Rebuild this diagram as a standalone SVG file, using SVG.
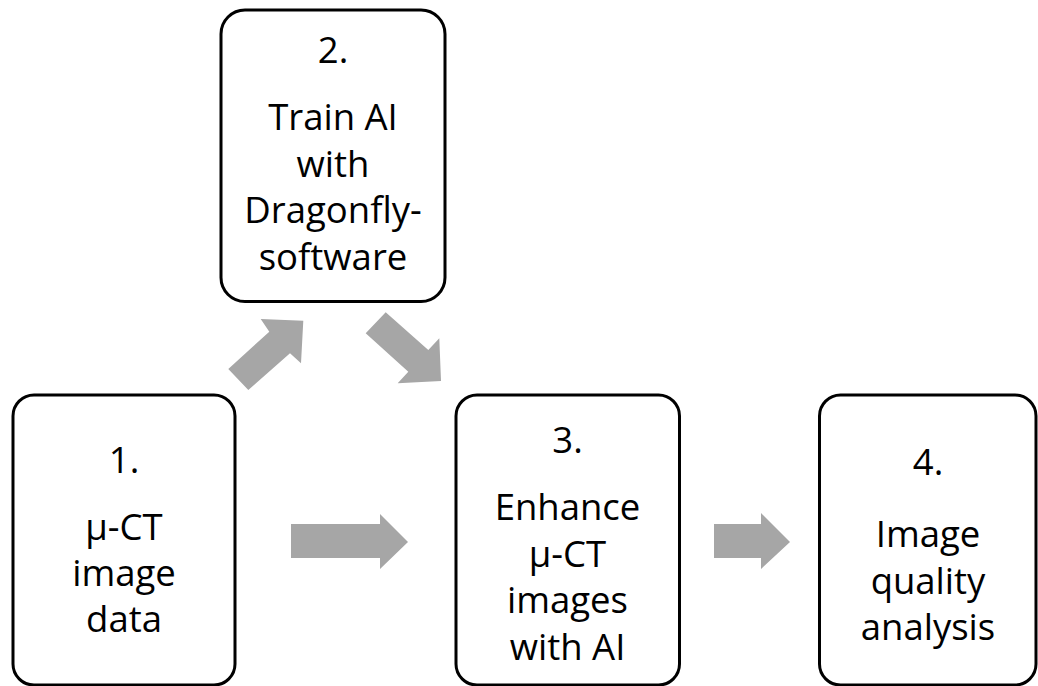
<svg xmlns="http://www.w3.org/2000/svg" width="1038" height="686" viewBox="0 0 1038 686">
<style>
.box{fill:#fff;stroke:#000;stroke-width:3}
.t{font-family:"Open Sans",Lato,"Liberation Sans",sans-serif;font-size:36.5px;fill:#000;text-anchor:middle}
.arr{fill:#a6a6a6}
</style>
<rect width="1038" height="686" fill="#fff"/>
<g id="connectors">
<polygon class="arr" points="228.3,369 269.3,331.7 260.7,319 303.3,320.7 301,363.3 290,353.3 248.3,390"/>
<polygon class="arr" points="385.7,312.3 428.3,350 439.3,338.3 441,381 397.7,383.3 408.3,371.7 365.7,333.3"/>
<polygon class="arr" points="291,524 380,524 380,514 408,542 380,569 380,558 291,558"/>
<polygon class="arr" points="714,524 761,524 761,513 790,542 761,569 761,558 714,558"/>
</g>
<g id="node1">
<rect class="box" x="13" y="395" width="222" height="290" rx="21"/>
<text class="t" x="124" y="473">1.</text>
<text class="t" x="124" y="540">μ-CT</text>
<text class="t" x="124" y="586">image</text>
<text class="t" x="124" y="632">data</text>
</g>
<g id="node2">
<rect class="box" x="221" y="10" width="224" height="291.5" rx="24"/>
<text class="t" x="333" y="63">2.</text>
<text class="t" x="333" y="130">Train AI</text>
<text class="t" x="333" y="176.7">with</text>
<text class="t" x="333" y="223.3">Dragonfly-</text>
<text class="t" x="333" y="270">software</text>
</g>
<g id="node3">
<rect class="box" x="456" y="395" width="223.5" height="290" rx="21"/>
<text class="t" x="567.5" y="453">3.</text>
<text class="t" x="567.5" y="520">Enhance</text>
<text class="t" x="567.5" y="566.7">μ-CT</text>
<text class="t" x="567.5" y="613.3">images</text>
<text class="t" x="567.5" y="660">with AI</text>
</g>
<g id="node4">
<rect class="box" x="819.5" y="395" width="216.5" height="290" rx="21"/>
<text class="t" x="928" y="475">4.</text>
<text class="t" x="928" y="547">Image</text>
<text class="t" x="928" y="593.5">quality</text>
<text class="t" x="928" y="640">analysis</text>
</g>
</svg>
